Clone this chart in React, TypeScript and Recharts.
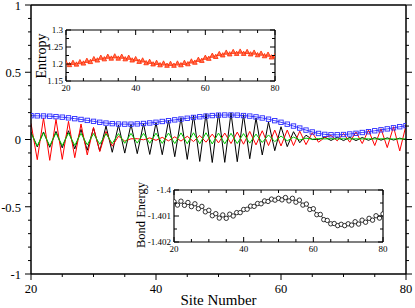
import React from "react";
import { ComposedChart, Line, XAxis, YAxis } from "recharts";

const FONT = "Liberation Serif";

// site numbers along the chain
const sites = [
  20, 21, 22, 23, 24, 25, 26, 27, 28, 29,
  30, 31, 32, 33, 34, 35, 36, 37, 38, 39,
  40, 41, 42, 43, 44, 45, 46, 47, 48, 49,
  50, 51, 52, 53, 54, 55, 56, 57, 58, 59,
  60, 61, 62, 63, 64, 65, 66, 67, 68, 69,
  70, 71, 72, 73, 74, 75, 76, 77, 78, 79,
  80,
];

const blackSeries = [
  0.055, -0.055, 0.056, -0.058, 0.06, -0.062, 0.065, -0.07, 0.075, -0.08,
  0.085, -0.085, 0.1, -0.095, 0.108, -0.101, 0.113, -0.105, 0.118, -0.111,
  0.125, -0.113, 0.142, -0.128, 0.162, -0.148, 0.18, -0.163, 0.192, -0.171,
  0.197, -0.17, 0.198, -0.165, 0.185, -0.143, 0.16, -0.115, 0.13, -0.083,
  0.095, -0.053, 0.058, -0.024, 0.032, 0.0, 0.0, 0.017, -0.007, 0.017,
  -0.008, 0.016, -0.008, 0.015, -0.006, 0.014, -0.005, 0.012, -0.004, 0.01,
  -0.003,
];

const redSeries = [
  0.12, -0.15, 0.16, -0.155, 0.15, -0.148, 0.135, -0.135, 0.115, -0.115,
  0.09, -0.09, 0.06, -0.05, 0.025, -0.012, 0.005, 0.006, -0.002, 0.012,
  -0.006, 0.016, -0.01, 0.02, -0.012, 0.024, -0.015, 0.03, -0.02, 0.04,
  -0.025, 0.048, -0.03, 0.055, -0.035, 0.06, -0.04, 0.065, -0.045, 0.07,
  -0.048, 0.07, -0.045, 0.062, -0.038, 0.05, -0.02, 0.015, 0.03, -0.01,
  0.045, -0.02, 0.055, -0.03, 0.07, -0.045, 0.08, -0.06, 0.095, -0.085,
  0.105,
];

const greenSeries = [
  0.05, -0.048, 0.05, -0.047, 0.049, -0.046, 0.048, -0.044, 0.046, -0.04,
  0.044, -0.035, 0.043, -0.03, 0.044, -0.028, 0.045, -0.027, 0.046, -0.028,
  0.047, -0.029, 0.048, -0.03, 0.049, -0.031, 0.05, -0.032, 0.05, -0.033,
  0.048, -0.032, 0.046, -0.03, 0.044, -0.027, 0.04, -0.022, 0.034, -0.016,
  0.026, -0.01, 0.018, -0.004, 0.01, 0.002, 0.007, 0.004, 0.006, 0.004,
  0.005, 0.004, 0.005, 0.004, 0.005, 0.004, 0.005, 0.004, 0.004, 0.004,
  0.004,
];

const blueSeries = [
  0.177, 0.176, 0.175, 0.173, 0.17, 0.166, 0.161, 0.155, 0.149, 0.142,
  0.135, 0.128, 0.122, 0.118, 0.115, 0.114, 0.114, 0.116, 0.119, 0.123,
  0.128, 0.134, 0.14, 0.146, 0.152, 0.158, 0.164, 0.169, 0.174, 0.178,
  0.181, 0.182, 0.182, 0.181, 0.178, 0.174, 0.168, 0.16, 0.151, 0.14,
  0.128, 0.114, 0.1, 0.085, 0.07, 0.056, 0.045, 0.038, 0.035, 0.035,
  0.037, 0.041, 0.046, 0.052, 0.058, 0.065, 0.072, 0.079, 0.087, 0.095,
  0.103,
];

const entropy = [
  1.203, 1.1975, 1.204, 1.199, 1.206, 1.202, 1.21, 1.2065, 1.215, 1.211,
  1.219, 1.2145, 1.222, 1.2165, 1.223, 1.2165, 1.222, 1.2145, 1.219, 1.211,
  1.215, 1.207, 1.211, 1.203, 1.207, 1.1995, 1.204, 1.197, 1.202, 1.1955,
  1.201, 1.1955, 1.202, 1.197, 1.204, 1.2, 1.208, 1.2045, 1.213, 1.21,
  1.219, 1.216, 1.225, 1.2215, 1.23, 1.226, 1.234, 1.229, 1.236, 1.2305,
  1.237, 1.2305, 1.236, 1.229, 1.234, 1.2265, 1.231, 1.2235, 1.228, 1.22,
  1.224,
];

const bondEnergy = [
  -1.40045, -1.40058, -1.40043, -1.40059, -1.40048, -1.40064, -1.40053, -1.40072, -1.40063, -1.40084,
  -1.40078, -1.40099, -1.40091, -1.40108, -1.40096, -1.40109, -1.40093, -1.401, -1.40087, -1.40087,
  -1.40075, -1.40074, -1.40062, -1.40063, -1.40052, -1.40053, -1.40042, -1.40044, -1.40035, -1.40039,
  -1.40032, -1.40038, -1.40029, -1.40042, -1.40032, -1.40047, -1.40039, -1.40058, -1.40054, -1.40075,
  -1.40072, -1.40095, -1.40094, -1.40114, -1.40117, -1.4013, -1.40129, -1.40137, -1.40132, -1.40137,
  -1.4013, -1.40135, -1.40122, -1.40131, -1.40116, -1.40124, -1.40109, -1.40116, -1.40099, -1.40108,
  -1.40092,
];

const xTicks = [20, 25, 30, 35, 40, 45, 50, 55, 60, 65, 70, 75, 80];
const mainYTicks = [
  -1, -0.9, -0.8, -0.7, -0.6, -0.5, -0.4, -0.3, -0.2, -0.1, 0,
  0.1, 0.2, 0.3, 0.4, 0.5, 0.6, 0.7, 0.8, 0.9, 1,
];
const entropyTicks = [1.15, 1.175, 1.2, 1.225, 1.25, 1.275, 1.3];
const bondTicks = [-1.402, -1.4015, -1.401, -1.4005, -1.4];

const data = sites.map((site, i) => ({
  site,
  black: blackSeries[i],
  red: redSeries[i],
  green: greenSeries[i],
  blue: blueSeries[i],
  entropy: entropy[i],
  bond: bondEnergy[i],
}));

const isMult = (v: number, step: number) =>
  Math.abs(v / step - Math.round(v / step)) < 1e-6;

// ---- main plot ticks (outward) ----
const MainXTick = ({ x, y, payload }: any) => {
  const major = isMult(payload.value, 20);
  return (
    <g>
      <line x1={x} x2={x} y1={y} y2={y + (major ? 6 : 3)} stroke="#000" />
      {major && (
        <text x={x} y={y + 15} textAnchor="middle" dominantBaseline="central"
          fontSize={12.5} fontFamily={FONT} fill="#000">{payload.value}</text>
      )}
    </g>
  );
};

const MainYTick = ({ x, y, payload }: any) => {
  const major = isMult(payload.value, 0.5);
  return (
    <g>
      <line x1={x} x2={x - (major ? 6 : 3)} y1={y} y2={y} stroke="#000" />
      {major && (
        <text x={x - 10} y={y + 0.8} textAnchor="end" dominantBaseline="central"
          fontSize={12.5} fontFamily={FONT} fill="#000">{String(payload.value)}</text>
      )}
    </g>
  );
};

const MainRightTick = ({ x, y, payload }: any) => {
  const major = isMult(payload.value, 0.5);
  return <line x1={x} x2={x + (major ? 6 : 3)} y1={y} y2={y} stroke="#000" />;
};

// ---- inset ticks (inward) ----
const insetBottom = ({ x, y, payload }: any) => {
  const major = isMult(payload.value, 20);
  return (
    <g>
      <line x1={x} x2={x} y1={y} y2={y - (major ? 5 : 3)} stroke="#000" />
      {major && (
        <text x={x} y={y + 7} textAnchor="middle" dominantBaseline="central"
          fontSize={9} fontFamily={FONT} fill="#000">{payload.value}</text>
      )}
    </g>
  );
};
const insetTop = ({ x, y, payload }: any) => {
  const major = isMult(payload.value, 20);
  return <line x1={x} x2={x} y1={y} y2={y + (major ? 5 : 3)} stroke="#000" />;
};
const makeInsetLeft = (step: number) => ({ x, y, payload }: any) => {
  const major = isMult(payload.value, step);
  return (
    <g>
      <line x1={x} x2={x + (major ? 5 : 3)} y1={y} y2={y} stroke="#000" />
      {major && (
        <text x={x - 3} y={y} textAnchor="end" dominantBaseline="central"
          fontSize={9} fontFamily={FONT} fill="#000">{String(payload.value)}</text>
      )}
    </g>
  );
};
const makeInsetRight = (step: number) => ({ x, y, payload }: any) => {
  const major = isMult(payload.value, step);
  return <line x1={x} x2={x - (major ? 5 : 3)} y1={y} y2={y} stroke="#000" />;
};

const frame = { stroke: "#000", strokeWidth: 1.5 };
const insetFrame = { stroke: "#000", strokeWidth: 1.2 };
const layer: React.CSSProperties = { position: "absolute", left: 0, top: 0 };

// axes are 1px thick so recharts still draws them; margins below account for that
const axisCommon = {
  tickSize: 0,
  tickMargin: 0,
  tickLine: false,
  interval: 0 as const,
  allowDataOverflow: true,
};

function Inset({ domain, yTicks, step, margin, label, labelX, labelY, labelSize, children }: any) {
  return (
    <div style={layer}>
      <ComposedChart width={415} height={308} data={data} margin={margin}>
        <XAxis xAxisId="b" dataKey="site" type="number" domain={[20, 80]} ticks={xTicks}
          height={1} axisLine={insetFrame} tick={insetBottom} {...axisCommon} />
        <XAxis xAxisId="t" orientation="top" dataKey="site" type="number" domain={[20, 80]}
          ticks={xTicks} height={1} axisLine={insetFrame} tick={insetTop} {...axisCommon} />
        <YAxis yAxisId="l" type="number" domain={domain} ticks={yTicks} width={1}
          axisLine={insetFrame} tick={makeInsetLeft(step)} {...axisCommon}
          label={() => (
            <text x={labelX} y={labelY} textAnchor="middle" dominantBaseline="central"
              transform={`rotate(-90 ${labelX} ${labelY})`} fontSize={labelSize}
              fontFamily={FONT} fill="#000">{label}</text>
          )} />
        <YAxis yAxisId="r" orientation="right" type="number" domain={domain} ticks={yTicks}
          width={1} axisLine={insetFrame} tick={makeInsetRight(step)} {...axisCommon} />
        {children}
      </ComposedChart>
    </div>
  );
}

export default function App() {
  return (
    <div style={{ ...layer, width: 415, height: 308, background: "#fff" }}>
      <div style={layer}>
        <ComposedChart width={415} height={308} data={data}
          margin={{ top: 4, right: 8, bottom: 33, left: 30 }}>
          <XAxis xAxisId="b" dataKey="site" type="number" domain={[20, 80]} ticks={xTicks}
            height={1} axisLine={frame} tick={MainXTick} {...axisCommon}
            label={() => (
              <text x={218.5} y={300} textAnchor="middle" dominantBaseline="central"
                fontSize={15} fontFamily={FONT} fill="#000">Site Number</text>
            )} />
          <XAxis xAxisId="t" orientation="top" dataKey="site" type="number" domain={[20, 80]}
            height={1} axisLine={frame} tick={false} {...axisCommon} />
          <YAxis yAxisId="l" type="number" domain={[-1, 1]} ticks={mainYTicks} width={1}
            axisLine={frame} tick={MainYTick} {...axisCommon} />
          <YAxis yAxisId="r" orientation="right" type="number" domain={[-1, 1]} ticks={mainYTicks}
            width={1} axisLine={frame} tick={MainRightTick} {...axisCommon} />
          <Line xAxisId="b" yAxisId="l" dataKey="black" stroke="#000" strokeWidth={1}
            dot={false} isAnimationActive={false} />
          <Line xAxisId="b" yAxisId="l" dataKey="red" stroke="#ff0000" strokeWidth={1}
            dot={false} isAnimationActive={false} />
          <Line xAxisId="b" yAxisId="l" dataKey="green" stroke="#00c800" strokeWidth={1}
            dot={false} isAnimationActive={false} />
          <Line xAxisId="b" yAxisId="l" dataKey="blue" stroke="#2a2aff" strokeWidth={0.9}
            isAnimationActive={false}
            dot={(p: any) => (
              <rect key={`sq${p.index}`} x={p.cx - 2.2} y={p.cy - 2.2} width={4.4} height={4.4}
                fill="none" stroke="#2a2aff" strokeWidth={0.9} />
            )} />
        </ComposedChart>
      </div>

      <Inset domain={[1.15, 1.3]} yTicks={entropyTicks} step={0.05}
        margin={{ top: 29, right: 139, bottom: 226, left: 65 }}
        label="Entropy" labelX={41} labelY={56} labelSize={14}>
        <Line xAxisId="b" yAxisId="l" dataKey="entropy" stroke="#ff2a00" strokeWidth={1}
          isAnimationActive={false}
          dot={(p: any) => (
            <polygon key={`tr${p.index}`}
              points={`${p.cx},${p.cy - 2.5} ${p.cx - 2.3},${p.cy + 1.8} ${p.cx + 2.3},${p.cy + 1.8}`}
              fill="#ff7050" stroke="#ff2a00" strokeWidth={0.8} />
          )} />
      </Inset>

      <Inset domain={[-1.402, -1.4]} yTicks={bondTicks} step={0.001}
        margin={{ top: 189, right: 31, bottom: 65, left: 173 }}
        label="Bond Energy" labelX={141} labelY={215} labelSize={12.5}>
        <Line xAxisId="b" yAxisId="l" dataKey="bond" stroke="#000" strokeWidth={0.8}
          isAnimationActive={false}
          dot={{ r: 2.2, fill: "#fff", stroke: "#000", strokeWidth: 0.8 }} />
      </Inset>
    </div>
  );
}
